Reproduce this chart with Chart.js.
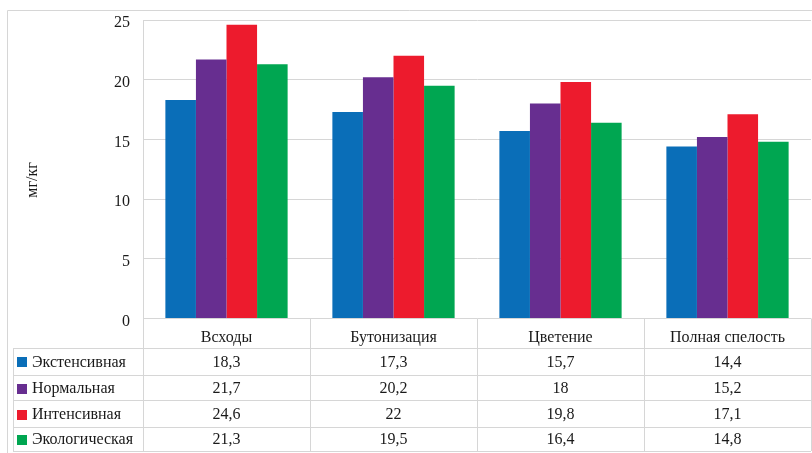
<!DOCTYPE html>
<html>
<head>
<meta charset="utf-8">
<script src="https://cdn.jsdelivr.net/npm/chart.js@4/dist/chart.umd.min.js"></script>
<style>
  html, body { margin: 0; padding: 0; background: #fff; }
  #graph { display: block; }
</style>
</head>
<body>
<canvas id="graph" width="812" height="453"></canvas>
<script>
// данные
const stages = ["Всходы", "Бутонизация", "Цветение", "Полная спелость"];
const seriesNames = ["Экстенсивная", "Нормальная", "Интенсивная", "Экологическая"];
const extensive = [18.3, 17.3, 15.7, 14.4];
const normal = [21.7, 20.2, 18, 15.2];
const intensive = [24.6, 22, 19.8, 17.1];
const ecological = [21.3, 19.5, 16.4, 14.8];
const yTicks = [0, 5, 10, 15, 20, 25];
const yTitle = "мг/кг";

const colors = ["#0a6eb8", "#672e90", "#ed1b2d", "#00a651"];
const seriesValues = [extensive, normal, intensive, ecological];

const FONT = "'Liberation Serif', 'DejaVu Serif', serif";
const LINE = "#d6d6d6";
const TEXT = "#1a1a1a";

// границы строк таблицы
const rowLines = [348, 374.7, 400.3, 426.7, 451];

const fmt = (v) => String(v).replace(".", ",");

const tablePlugin = {
  id: "dataTable",
  afterDraw(chart) {
    const ctx = chart.ctx;
    const x = chart.scales.x;
    const area = chart.chartArea;
    ctx.save();
    ctx.strokeStyle = LINE;
    ctx.lineWidth = 1;

    // внешняя рамка
    ctx.beginPath();
    ctx.moveTo(7.5, 453);
    ctx.lineTo(7.5, 10.5);
    ctx.lineTo(812, 10.5);
    ctx.stroke();

    // вертикальные линии таблицы
    ctx.beginPath();
    for (let i = 0; i <= stages.length; i++) {
      const px = i === 0 ? area.left : x.getPixelForValue(i - 0.5);
      if (px > 811) continue;
      ctx.moveTo(Math.round(px) + 0.5, area.bottom);
      ctx.lineTo(Math.round(px) + 0.5, rowLines[rowLines.length - 1]);
    }
    ctx.moveTo(13.5, rowLines[0]);
    ctx.lineTo(13.5, rowLines[rowLines.length - 1]);
    rowLines.forEach((ry) => {
      ctx.moveTo(13, Math.round(ry) + 0.5);
      ctx.lineTo(area.right, Math.round(ry) + 0.5);
    });
    ctx.stroke();

    // строки с легендой и значениями
    ctx.font = "16px " + FONT;
    ctx.textBaseline = "middle";
    seriesNames.forEach((name, r) => {
      const cy = (rowLines[r] + rowLines[r + 1]) / 2 + 1;
      ctx.fillStyle = colors[r];
      ctx.fillRect(17, Math.round(cy - 5), 10, 10);
      ctx.fillStyle = TEXT;
      ctx.textAlign = "left";
      ctx.fillText(name, 32, cy);
      ctx.textAlign = "center";
      seriesValues[r].forEach((v, c) => {
        ctx.fillText(fmt(v), x.getPixelForValue(c), cy);
      });
    });

    // подпись оси Y
    ctx.translate(33, 180);
    ctx.rotate(-Math.PI / 2);
    ctx.font = "16px " + FONT;
    ctx.textAlign = "center";
    ctx.fillText(yTitle, 0, 0);
    ctx.restore();
  },
};

const graph = document.getElementById("graph");

new Chart(graph, {
  type: "bar",
  data: {
    labels: stages,
    datasets: seriesNames.map((name, i) => ({
      label: name,
      data: seriesValues[i],
      backgroundColor: colors[i],
      borderWidth: 0,
      categoryPercentage: 0.732,
      barPercentage: 1.0,
    })),
  },
  options: {
    responsive: false,
    animation: false,
    layout: { padding: { top: 20, right: 1, left: 0, bottom: 0 } },
    plugins: {
      legend: { display: false },
      tooltip: { enabled: false },
    },
    scales: {
      x: {
        afterFit(scale) {
          scale.height = 134.5;
        },
        grid: { display: false },
        border: { display: false },
        ticks: {
          padding: 2,
          color: TEXT,
          font: { family: FONT, size: 16 },
          maxRotation: 0,
        },
      },
      y: {
        min: 0,
        max: 25,
        afterFit(scale) {
          scale.width = 143;
          scale.paddingTop = 0;
          scale.paddingBottom = 0;
        },
        afterBuildTicks(scale) {
          scale.ticks = yTicks.map((v) => ({ value: v }));
        },
        grid: { color: LINE, drawTicks: false },
        border: { color: LINE },
        ticks: {
          padding: 13,
          labelOffset: 3,
          color: TEXT,
          font: { family: FONT, size: 16, lineHeight: 1 },
        },
      },
    },
  },
  plugins: [tablePlugin],
});
</script>
</body>
</html>
